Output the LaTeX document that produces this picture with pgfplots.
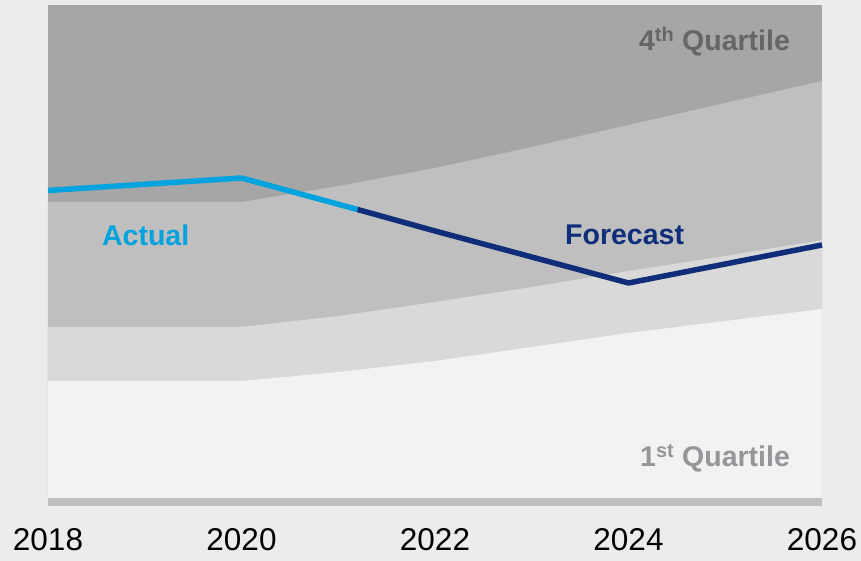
\documentclass[border=0pt]{standalone}
\usepackage{pgfplots}
\pgfplotsset{compat=1.18}
\usepackage{fontspec}
\setmainfont{Liberation Sans}
\definecolor{bgc}{HTML}{ECECEC}
\definecolor{q4}{HTML}{A6A6A6}
\definecolor{q3}{HTML}{BFBFBF}
\definecolor{q2}{HTML}{D9D9D9}
\definecolor{q1}{HTML}{F2F2F2}
\definecolor{faint}{HTML}{F7F7F7}
\definecolor{actual}{HTML}{00A3DE}
\definecolor{forecast}{HTML}{0F2D78}
\definecolor{qdark}{HTML}{666666}
\definecolor{qlight}{HTML}{95969A}
\begin{document}
\begin{tikzpicture}
\fill[bgc] (-48bp,-55bp) rectangle (813bp,506bp);
\begin{axis}[
  at={(0,0)}, anchor=south west,
  scale only axis, width=774bp, height=501bp,
  xmin=2018, xmax=2026, ymin=-8, ymax=493,
  axis background/.style={fill=q4},
  axis line style={draw=none},
  xtick={2018,2020,2022,2024,2026},
  ytick=\empty,
  major tick length=0pt,
  /pgf/number format/1000 sep={},
  /pgf/number format/assume math mode=true,
  xticklabel style={font=\fontsize{31.5bp}{34bp}\selectfont, inner sep=0pt, anchor=north, yshift=-22bp},
  clip=false,
]
% band boundaries (upper edge of each lower band)
\addplot[fill=q3, draw=none] coordinates {(2018,0) (2018,296) (2020,296) (2021,312) (2022,330) (2023,351) (2024,373) (2025,395) (2026,417) (2026,0)} -- cycle;
\addplot[fill=q2, draw=none] coordinates {(2018,0) (2018,171) (2020,171) (2021,182) (2022,196) (2023,211) (2024,227) (2025,242) (2026,258) (2026,0)} -- cycle;
\addplot[fill=q1, draw=none] coordinates {(2018,0) (2018,117) (2020,117) (2021,126) (2022,137) (2023,151) (2024,165) (2025,177) (2026,189) (2026,0)} -- cycle;
\addplot[faint, line width=0.8bp] coordinates {(2020,31) (2023,56) (2026,81)};
\addplot[fill=q3, draw=none] coordinates {(2018,-8) (2018,0) (2026,0) (2026,-8)} -- cycle;
% lines
\addplot[actual, line width=5.5bp, line join=round] coordinates {(2018,307.5) (2020,320) (2021.2,288.5)};
\addplot[forecast, line width=5.5bp, line join=round] coordinates {(2021.2,288.5) (2022,267) (2024,215) (2026,253)};
% labels
\node[font=\fontsize{28.5bp}{30bp}\selectfont\bfseries, text=actual] at (axis cs:2019.01,263) {Actual};
\node[font=\fontsize{28.5bp}{30bp}\selectfont\bfseries, text=forecast] at (axis cs:2023.96,263) {Forecast};
\node[font=\fontsize{28.5bp}{30bp}\selectfont\bfseries, text=qdark, anchor=east, inner sep=0pt] at (axis cs:2025.67,456) {4\textsuperscript{th} Quartile};
\node[font=\fontsize{28.5bp}{30bp}\selectfont\bfseries, text=qlight, anchor=east, inner sep=0pt] at (axis cs:2025.67,40) {1\textsuperscript{st} Quartile};
\end{axis}
\pgfresetboundingbox
\path (-48bp,-55bp) rectangle (813bp,506bp);
\end{tikzpicture}
\end{document}
